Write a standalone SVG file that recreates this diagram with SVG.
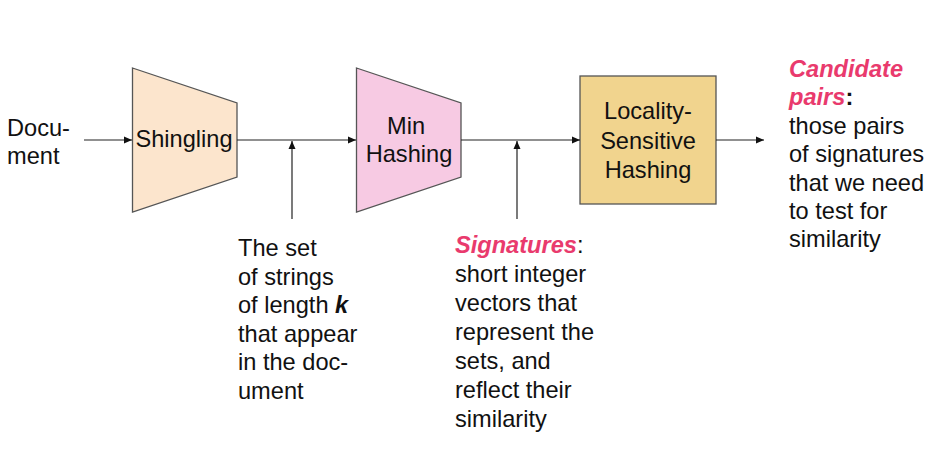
<svg xmlns="http://www.w3.org/2000/svg" width="938" height="450" viewBox="0 0 938 450">
<style>
text{font-family:"Liberation Sans",Arial,sans-serif;font-size:23.6px;fill:#111}
.c{text-anchor:middle}
.r{fill:#E93A6D;font-style:italic;font-weight:bold}
.b{font-style:italic;font-weight:bold}
.shape{stroke:#555;stroke-width:1.3}
.conn line{stroke:#222;stroke-width:1.2}
</style>
<defs>
<marker id="ah" markerWidth="8" markerHeight="8" viewBox="0 0 8 8" refX="8" refY="4" orient="auto" markerUnits="userSpaceOnUse">
<path d="M0,0.5 L8,4 L0,7.5 Z" fill="#111"/>
</marker>
</defs>
<rect width="938" height="450" fill="#fff"/>
<g id="document"><text x="7" y="136">Docu-</text><text x="7" y="164">ment</text></g>
<g id="shingling">
<polygon class="shape" points="132.5,68 237,103 237,177 132.5,212" fill="#FCE5CD"/>
<text class="c" x="184" y="147">Shingling</text>
</g>
<g id="minhashing">
<polygon class="shape" points="356.5,68 461,103 461,177 356.5,212" fill="#F7CAE3"/>
<text class="c" x="406" y="134">Min</text><text class="c" x="409" y="162">Hashing</text>
</g>
<g id="lsh">
<rect class="shape" x="580" y="76" width="136" height="128" fill="#F1D48E"/>
<text class="c" x="648" y="119">Locality-</text><text class="c" x="648" y="149">Sensitive</text><text class="c" x="648" y="178">Hashing</text>
</g>
<g class="conn" id="connectors">
<line x1="84" y1="140" x2="132" y2="140" marker-end="url(#ah)"/>
<line x1="237" y1="140" x2="356" y2="140" marker-end="url(#ah)"/>
<line x1="292" y1="219" x2="292" y2="141" marker-end="url(#ah)"/>
<line x1="461" y1="140" x2="580" y2="140" marker-end="url(#ah)"/>
<line x1="517" y1="219" x2="517" y2="141" marker-end="url(#ah)"/>
<line x1="716" y1="140" x2="764" y2="140" marker-end="url(#ah)"/>
</g>
<g id="shingles-label">
<text x="238" y="256">The set</text>
<text x="238" y="284.5">of strings</text>
<text x="238" y="313">of length <tspan class="b">k</tspan></text>
<text x="238" y="341.5">that appear</text>
<text x="238" y="370">in the doc-</text>
<text x="238" y="398.5">ument</text>
</g>
<g id="signatures-label">
<text x="455" y="253"><tspan class="r">Signatures</tspan>:</text>
<text x="455" y="282">short integer</text>
<text x="455" y="311">vectors that</text>
<text x="455" y="340">represent the</text>
<text x="455" y="369">sets, and</text>
<text x="455" y="398">reflect their</text>
<text x="455" y="427">similarity</text>
</g>
<g id="candidates-label">
<text x="789" y="77" class="r">Candidate</text>
<text x="789" y="105"><tspan class="r">pairs</tspan><tspan font-weight="bold">:</tspan></text>
<text x="789" y="134">those pairs</text>
<text x="789" y="162">of signatures</text>
<text x="789" y="191">that we need</text>
<text x="789" y="219">to test for</text>
<text x="789" y="247">similarity</text>
</g>
</svg>
